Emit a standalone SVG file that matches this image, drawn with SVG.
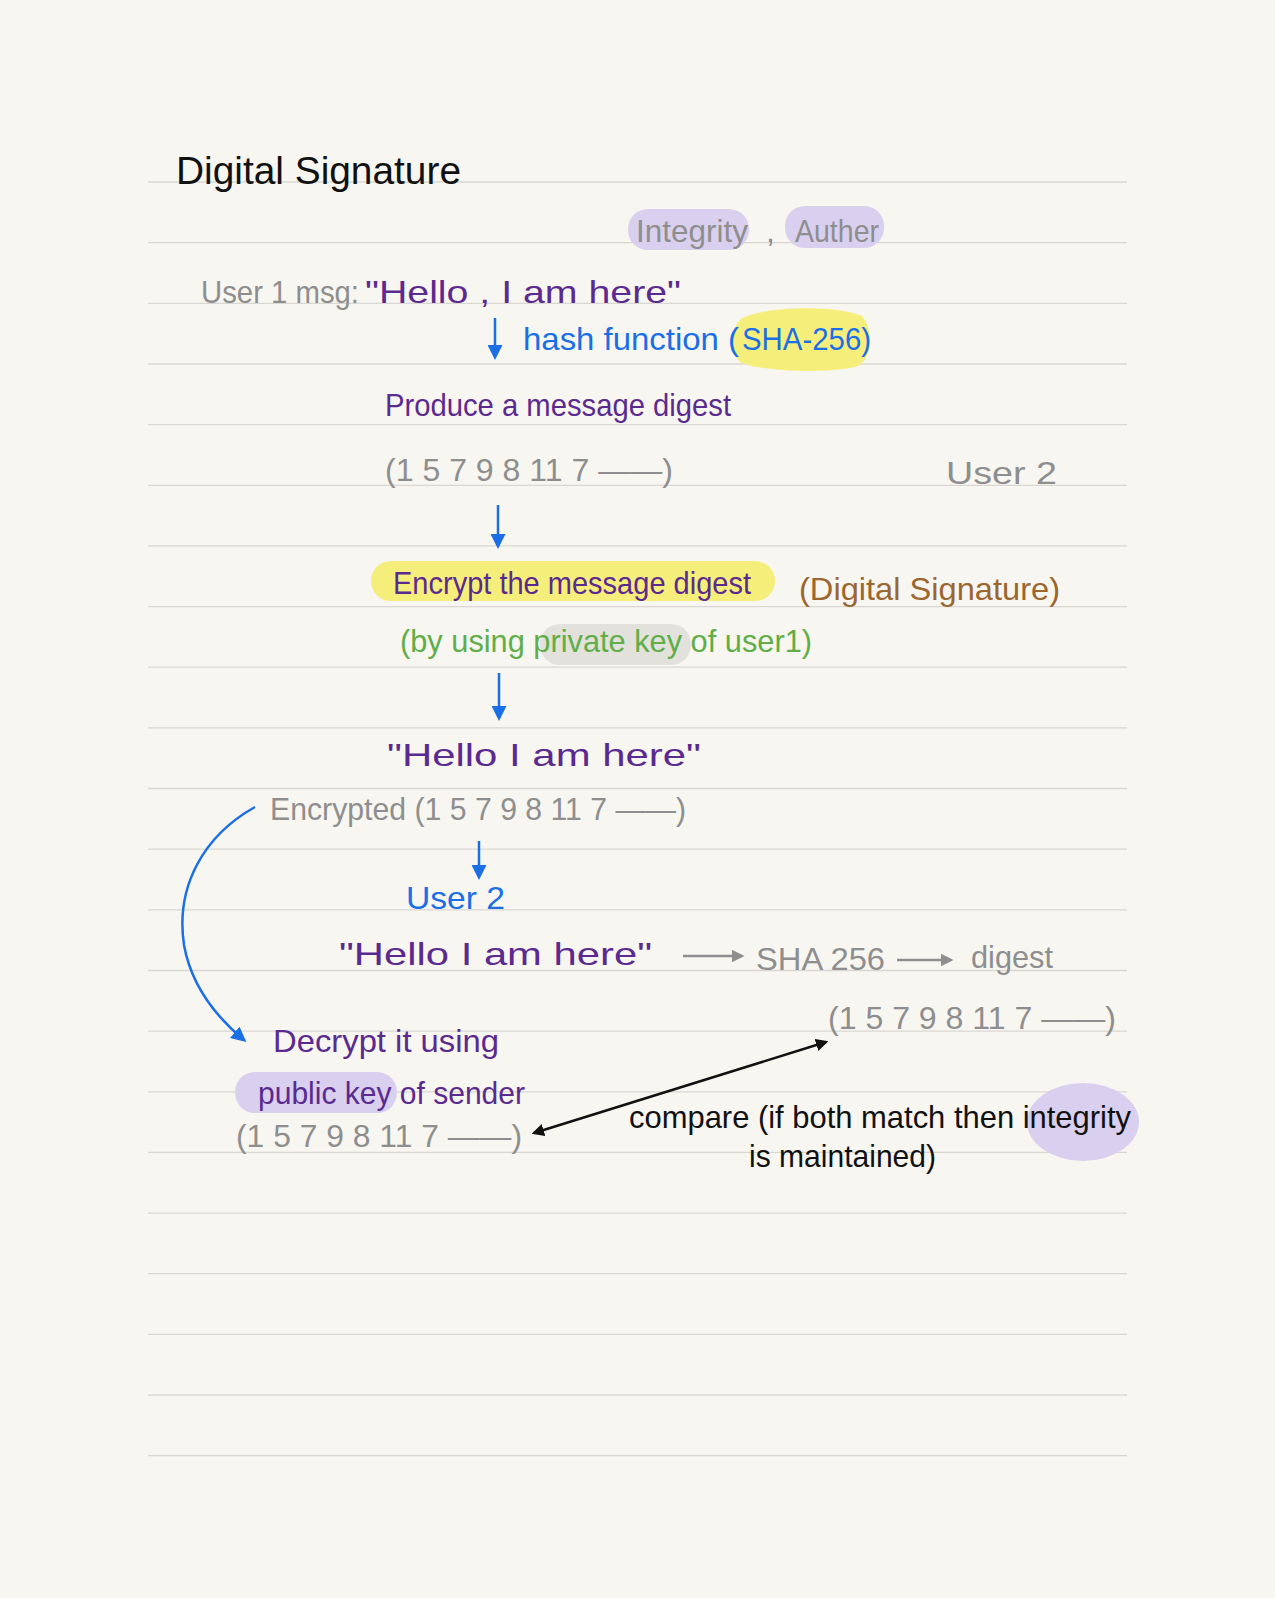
<svg xmlns="http://www.w3.org/2000/svg" width="1275" height="1598" viewBox="0 0 1275 1598">
<defs>
<style>
.t{font-family:"Liberation Sans","DejaVu Sans",sans-serif;font-size:32px}
.ti{font-size:38px;fill:#111}
.pu{fill:#5b2a90}
.gr{fill:#8e8e8e}
.bl{fill:#1a6fe6}
.br{fill:#9b6630}
.gn{fill:#5fae48}
.bk{fill:#111}
.rule{stroke:#d9d7d2;stroke-width:1.3}
.yl{fill:#f6ee7a}
.lv{fill:#d9d0ef}
.gh{fill:#e3e1dc}
.ab{stroke:#1a6fe6;stroke-width:2.5;fill:none}
.ag{stroke:#8e8e8e;stroke-width:2.5;fill:none}
.ak{stroke:#111;stroke-width:2.5;fill:none}
</style>
<marker id="mb" viewBox="0 0 10 10" refX="8" refY="5" markerWidth="6" markerHeight="6" orient="auto"><path d="M0,0 L10,5 L0,10 z" fill="#1a6fe6"/></marker>
<marker id="mg" viewBox="0 0 10 10" refX="8" refY="5" markerWidth="5" markerHeight="5" orient="auto"><path d="M0,0 L10,5 L0,10 z" fill="#8e8e8e"/></marker>
<marker id="mk" viewBox="0 0 10 10" refX="8" refY="5" markerWidth="5" markerHeight="5" orient="auto-start-reverse"><path d="M0,0 L10,5 L0,10 z" fill="#111"/></marker>
</defs>
<rect width="1275" height="1598" fill="#f8f6f1"/>
<g id="rules">
<line class="rule" x1="148" y1="182" x2="1127" y2="182"/>
<line class="rule" x1="148" y1="242.7" x2="1127" y2="242.7"/>
<line class="rule" x1="148" y1="303.3" x2="1127" y2="303.3"/>
<line class="rule" x1="148" y1="364" x2="1127" y2="364"/>
<line class="rule" x1="148" y1="424.6" x2="1127" y2="424.6"/>
<line class="rule" x1="148" y1="485.3" x2="1127" y2="485.3"/>
<line class="rule" x1="148" y1="545.9" x2="1127" y2="545.9"/>
<line class="rule" x1="148" y1="606.6" x2="1127" y2="606.6"/>
<line class="rule" x1="148" y1="667.2" x2="1127" y2="667.2"/>
<line class="rule" x1="148" y1="727.9" x2="1127" y2="727.9"/>
<line class="rule" x1="148" y1="788.5" x2="1127" y2="788.5"/>
<line class="rule" x1="148" y1="849.2" x2="1127" y2="849.2"/>
<line class="rule" x1="148" y1="909.8" x2="1127" y2="909.8"/>
<line class="rule" x1="148" y1="970.5" x2="1127" y2="970.5"/>
<line class="rule" x1="148" y1="1031.1" x2="1127" y2="1031.1"/>
<line class="rule" x1="148" y1="1091.8" x2="1127" y2="1091.8"/>
<line class="rule" x1="148" y1="1152.4" x2="1127" y2="1152.4"/>
<line class="rule" x1="148" y1="1213.1" x2="1127" y2="1213.1"/>
<line class="rule" x1="148" y1="1273.7" x2="1127" y2="1273.7"/>
<line class="rule" x1="148" y1="1334.4" x2="1127" y2="1334.4"/>
<line class="rule" x1="148" y1="1395" x2="1127" y2="1395"/>
<line class="rule" x1="148" y1="1455.7" x2="1127" y2="1455.7"/>
</g>
<g id="title"><text class="t ti" x="176" y="184" textLength="285" lengthAdjust="spacingAndGlyphs">Digital Signature</text></g>
<g id="goals">
<rect class="lv" x="628" y="209" width="121" height="41" rx="20"/>
<rect class="lv" x="785" y="206" width="99" height="42" rx="20"/>
<text class="t gr" x="636" y="242" textLength="112" lengthAdjust="spacingAndGlyphs">Integrity</text>
<text class="t gr" x="766" y="242">,</text>
<text class="t gr" x="795" y="242" textLength="84" lengthAdjust="spacingAndGlyphs">Auther</text>
</g>
<g id="user1-msg">
<text class="t gr" x="201" y="303" textLength="158" lengthAdjust="spacingAndGlyphs">User 1 msg:</text>
<text class="t pu" x="365" y="303" textLength="316" lengthAdjust="spacingAndGlyphs">"Hello , I am here"</text>
</g>
<g id="hash-fn">
<path class="yl" d="M742,318 C770,305 840,306 862,316 C874,330 872,358 858,366 C830,374 760,372 740,362 C728,350 730,328 742,318 z"/>
<text class="t bl" x="523" y="350" textLength="216" lengthAdjust="spacingAndGlyphs">hash function (</text>
<text class="t bl" x="742" y="350" textLength="129" lengthAdjust="spacingAndGlyphs">SHA-256)</text>
</g>
<g id="digest1">
<text class="t pu" x="385" y="416" textLength="346" lengthAdjust="spacingAndGlyphs">Produce a message digest</text>
<text class="t gr" x="385" y="481" textLength="288" lengthAdjust="spacingAndGlyphs">(1 5 7 9 8 11 7 ——)</text>
</g>
<g id="user2-label"><text class="t gr" x="946" y="484" textLength="111" lengthAdjust="spacingAndGlyphs">User 2</text></g>
<g id="encrypt">
<rect class="yl" x="371" y="561" width="404" height="40" rx="20"/>
<text class="t pu" x="393" y="594" textLength="358" lengthAdjust="spacingAndGlyphs">Encrypt the message digest</text>
<text class="t br" x="799" y="600" textLength="261" lengthAdjust="spacingAndGlyphs">(Digital Signature)</text>
</g>
<g id="private-key">
<rect class="gh" x="540" y="624" width="151" height="41" rx="20"/>
<text class="t gn" x="400" y="652" textLength="412" lengthAdjust="spacingAndGlyphs">(by using private key of user1)</text>
</g>
<g id="sent-msg">
<text class="t pu" x="387" y="766" textLength="314" lengthAdjust="spacingAndGlyphs">"Hello  I am here"</text>
<text class="t gr" x="270" y="820" textLength="416" lengthAdjust="spacingAndGlyphs">Encrypted (1 5 7 9 8 11 7 ——)</text>
</g>
<g id="user2"><text class="t bl" x="406" y="909" textLength="99" lengthAdjust="spacingAndGlyphs">User 2</text></g>
<g id="recv-msg"><text class="t pu" x="339" y="965" textLength="313" lengthAdjust="spacingAndGlyphs">"Hello  I am here"</text></g>
<g id="sha256"><text class="t gr" x="756" y="970" textLength="129" lengthAdjust="spacingAndGlyphs">SHA 256</text></g>
<g id="digest-label"><text class="t gr" x="971" y="968" textLength="82" lengthAdjust="spacingAndGlyphs">digest</text></g>
<g id="digest2"><text class="t gr" x="828" y="1029" textLength="288" lengthAdjust="spacingAndGlyphs">(1 5 7 9 8 11 7 ——)</text></g>
<g id="decrypt">
<rect class="lv" x="235" y="1072" width="162" height="41" rx="20"/>
<text class="t pu" x="273" y="1052" textLength="226" lengthAdjust="spacingAndGlyphs">Decrypt it using</text>
<text class="t pu" x="258" y="1104" textLength="267" lengthAdjust="spacingAndGlyphs">public key of sender</text>
<text class="t gr" x="236" y="1147" textLength="286" lengthAdjust="spacingAndGlyphs">(1 5 7 9 8 11 7 ——)</text>
</g>
<g id="compare">
<ellipse class="lv" cx="1083" cy="1122" rx="56" ry="39"/>
<text class="t bk" x="629" y="1128" textLength="502" lengthAdjust="spacingAndGlyphs">compare (if both match then integrity</text>
<text class="t bk" x="749" y="1167" textLength="187" lengthAdjust="spacingAndGlyphs">is maintained)</text>
</g>
<g id="connectors">
<line class="ab" x1="495" y1="318" x2="495" y2="357" marker-end="url(#mb)"/>
<line class="ab" x1="498" y1="505" x2="498" y2="546" marker-end="url(#mb)"/>
<line class="ab" x1="499" y1="673" x2="499" y2="718" marker-end="url(#mb)"/>
<line class="ab" x1="479" y1="841" x2="479" y2="877" marker-end="url(#mb)"/>
<path class="ab" d="M255,807 C205,835 175,885 184,945 C192,990 220,1020 244,1040" marker-end="url(#mb)"/>
<line class="ag" x1="683" y1="956" x2="742" y2="956" marker-end="url(#mg)"/>
<line class="ag" x1="897" y1="960" x2="951" y2="960" marker-end="url(#mg)"/>
<line class="ak" x1="534" y1="1133" x2="826" y2="1042" marker-start="url(#mk)" marker-end="url(#mk)"/>
</g>
</svg>
